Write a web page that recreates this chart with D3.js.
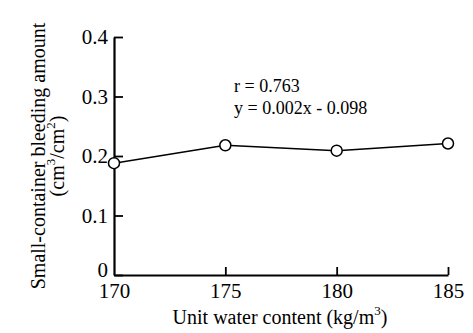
<!DOCTYPE html>
<html>
<head>
<meta charset="utf-8">
<script src="https://cdn.jsdelivr.net/npm/d3@7"></script>
<style>
  body { margin: 0; background: #fff; }
  #chart { width: 473px; height: 333px; }
  svg text { font-family: "Liberation Serif", "Times New Roman", "DejaVu Serif", serif !important; fill: #000; }
</style>
</head>
<body>
<div id="chart"></div>
<script>
// data
const waterContent = [170, 175, 180, 185];
const bleeding = [0.188, 0.218, 0.209, 0.221];
const xTicks = [170, 175, 180, 185];
const yTicks = [0, 0.1, 0.2, 0.3, 0.4];

const width = 473;
const height = 333;
const margin = {top: 37, left: 114, right: 25, bottom: 58};

const svg = d3.select("#chart")
    .append("svg")
    .attr("width", width)
    .attr("height", height)
    .style("font-family", "'Liberation Serif', serif");

// Scales
const xScale = d3.scaleLinear()
    .domain([170, 185])
    .range([margin.left, width - margin.right]);

const yScale = d3.scaleLinear()
    .domain([0, 0.4])
    .range([height - margin.bottom, margin.top]);

// Axes (ticks point inward)
const xAxis = svg.append("g")
    .attr("transform", `translate(0,${height - margin.bottom})`)
    .call(d3.axisBottom(xScale).tickValues(xTicks).tickSizeInner(-8).tickSizeOuter(0).tickPadding(16).tickFormat(d3.format("d")));

const yAxis = svg.append("g")
    .attr("transform", `translate(${margin.left},0)`)
    .call(d3.axisLeft(yScale).tickValues(yTicks).tickSizeInner(-9).tickSizeOuter(0).tickPadding(6)
        .tickFormat(function(d) { return d === 0 ? "0" : d3.format(".1f")(d); }));

[xAxis, yAxis].forEach(function(a) {
    a.attr("font-family", null);
    a.select(".domain").attr("stroke", "#000").attr("stroke-width", 2.2);
    a.selectAll(".tick line").attr("stroke", "#000").attr("stroke-width", 1.8);
    a.selectAll(".tick text").attr("font-size", 21).attr("fill", "#000");
});
xAxis.selectAll(".tick").filter(function(d) { return d === 170; }).select("line").remove();
xAxis.selectAll(".tick text").attr("dy", "0.35em");
// the "0" sits just above the "170"
yAxis.selectAll(".tick").filter(function(d) { return d === 0; }).select("text").attr("dy", "0.05em");

// Axis labels
svg.append("text")
    .attr("x", 280)
    .attr("y", 324)
    .attr("text-anchor", "middle")
    .attr("font-size", 20)
    .html('Unit water content (kg/m<tspan dy="-9" font-size="13">3</tspan><tspan dy="9">)</tspan>');

const yLabel = svg.append("text")
    .attr("transform", "translate(45,156) rotate(-90)")
    .attr("text-anchor", "middle")
    .attr("font-size", 20);
yLabel.append("tspan").attr("x", 0).attr("y", 0).text("Small-container bleeding amount");
yLabel.append("tspan").attr("x", 0).attr("y", 19)
    .html('(cm<tspan dy="-9" font-size="13">3</tspan><tspan dy="9">/cm</tspan><tspan dy="-9" font-size="13">2</tspan><tspan dy="9">)</tspan>');

// Annotation
svg.append("text").attr("x", 234).attr("y", 92).attr("font-size", 18).text("r = 0.763");
svg.append("text").attr("x", 234).attr("y", 114).attr("font-size", 18).text("y = 0.002x - 0.098");

// Line and points
const points = waterContent.map(function(d, i) { return {x: d, y: bleeding[i]}; });

svg.append("path")
    .datum(points)
    .attr("fill", "none")
    .attr("stroke", "#000")
    .attr("stroke-width", 1.5)
    .attr("d", d3.line().x(function(d) { return xScale(d.x); }).y(function(d) { return yScale(d.y); }));

svg.selectAll("circle")
    .data(points)
    .enter()
    .append("circle")
        .attr("cx", function(d) { return xScale(d.x); })
        .attr("cy", function(d) { return yScale(d.y); })
        .attr("r", 5.5)
        .attr("fill", "#fff")
        .attr("stroke", "#000")
        .attr("stroke-width", 1.5);
</script>
</body>
</html>
